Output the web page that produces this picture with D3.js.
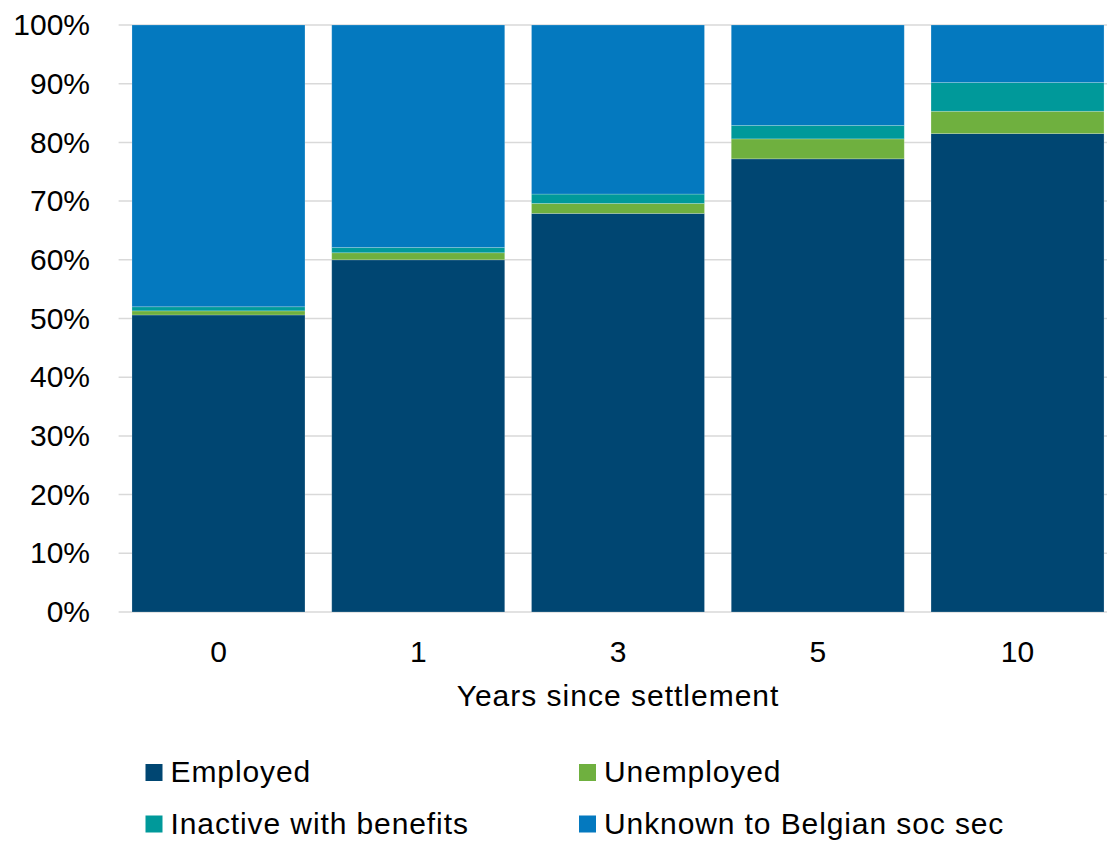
<!DOCTYPE html>
<html>
<head>
<meta charset="utf-8">
<script src="https://cdn.jsdelivr.net/npm/d3@7"></script>
<style>
  html, body { margin: 0; padding: 0; background: #fff; }
  svg { display: block; font-family: "Liberation Sans", Arial, sans-serif; }
</style>
</head>
<body>
<svg id="chart" width="1107" height="841"></svg>
<script>
// Labour-market status by years since settlement (shares, %)
const years = ["0", "1", "3", "5", "10"];
const employed   = [50.6, 60.0, 67.9, 77.2, 81.5];
const unemployed = [0.7, 1.2, 1.7, 3.4, 3.8];
const inactive   = [0.7, 0.9, 1.6, 2.3, 4.9];
const unknown    = [48.0, 37.9, 28.8, 17.1, 9.8];
const seriesNames = ["Employed", "Unemployed", "Inactive with benefits", "Unknown to Belgian soc sec"];
const seriesColors = ["#004672", "#6fb03f", "#00999a", "#0479bf"];
const yTicks = [0, 10, 20, 30, 40, 50, 60, 70, 80, 90, 100];

const rows = years.map((y, i) => ({
  year: y,
  "Employed": employed[i],
  "Unemployed": unemployed[i],
  "Inactive with benefits": inactive[i],
  "Unknown to Belgian soc sec": unknown[i]
}));

const svg = d3.select("#chart");
const plotLeft = 118.6, plotRight = 1117.4, plotTop = 25, plotBottom = 612;
const fontSize = 30;

const x = d3.scaleBand().domain(years).range([plotLeft, plotRight])
  .paddingInner(0.134).paddingOuter(0.067);
const y = d3.scaleLinear().domain([0, 100]).range([plotBottom, plotTop]);
const color = d3.scaleOrdinal().domain(seriesNames).range(seriesColors);

// gridlines
svg.append("g").selectAll("line").data(yTicks).join("line")
  .attr("x1", plotLeft).attr("x2", 1107)
  .attr("y1", d => y(d)).attr("y2", d => y(d))
  .attr("stroke", "#d9d9d9").attr("stroke-width", 1.5);

// stacked bars
const stacked = d3.stack().keys(seriesNames)(rows);
svg.append("g").selectAll("g").data(stacked).join("g")
  .attr("fill", d => color(d.key))
  .selectAll("rect").data(d => d).join("rect")
  .attr("x", d => x(d.data.year))
  .attr("width", x.bandwidth())
  .attr("y", d => y(Math.min(100, d[1])))
  .attr("height", d => y(d[0]) - y(Math.min(100, d[1])))
  .attr("stroke", "#ffffff").attr("stroke-opacity", 0.25).attr("stroke-width", 0.8);

// y axis labels
const yAxis = d3.axisLeft(y).tickValues(yTicks).tickFormat(d => d + "%").tickSize(0).tickPadding(0);
const gy = svg.append("g").attr("transform", `translate(90,0)`).call(yAxis);
gy.select(".domain").remove();
gy.selectAll("text").attr("font-size", fontSize).attr("fill", "#000")
  .attr("font-family", "Liberation Sans, Arial, sans-serif");

// x axis labels
const xAxis = d3.axisBottom(x).tickSize(0).tickPadding(0);
const gx = svg.append("g").attr("transform", `translate(0,${plotBottom + 29})`).call(xAxis);
gx.select(".domain").remove();
gx.selectAll("text").attr("font-size", fontSize).attr("fill", "#000")
  .attr("font-family", "Liberation Sans, Arial, sans-serif");

// axis title
svg.append("text").attr("x", 618).attr("y", 706).attr("text-anchor", "middle")
  .attr("font-size", fontSize).attr("letter-spacing", 1).attr("fill", "#000")
  .text("Years since settlement");

// legend
const legendPos = [[145.5, 772.5], [579, 772.5], [145.5, 824], [579, 824]];
const lg = svg.append("g").selectAll("g").data(seriesNames).join("g")
  .attr("transform", (d, i) => `translate(${legendPos[i][0]},${legendPos[i][1]})`);
lg.append("rect").attr("x", 0).attr("y", -8.5).attr("width", 17).attr("height", 17)
  .attr("fill", d => color(d));
lg.append("text").attr("x", 25).attr("y", 9.5).attr("font-size", fontSize)
  .attr("letter-spacing", 0.9).attr("fill", "#000")
  .text(d => d);
</script>
</body>
</html>
